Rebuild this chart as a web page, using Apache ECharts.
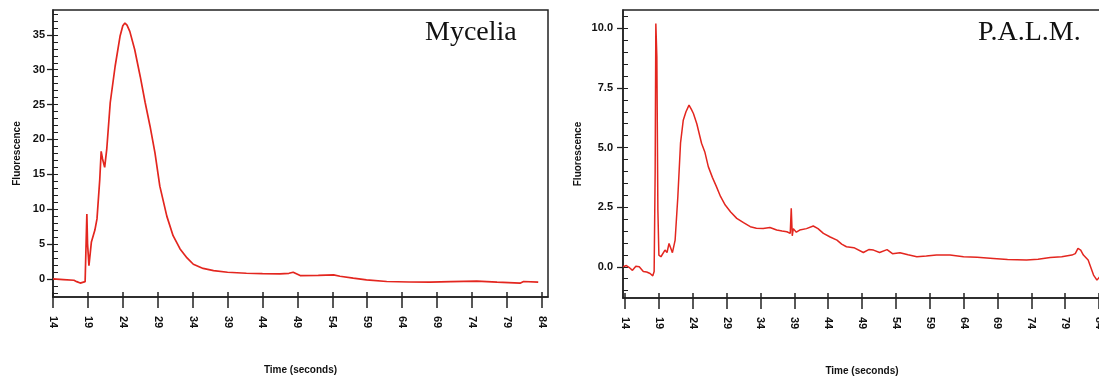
<!DOCTYPE html>
<html>
<head>
<meta charset="utf-8">
<script src="https://cdn.jsdelivr.net/npm/echarts@6/dist/echarts.min.js"></script>
<style>
html,body{margin:0;padding:0;background:#ffffff;}
#chart{width:1099px;height:377px;}
</style>
</head>
<body>
<div id="chart"></div>
<script>
// ---- Data ----
const xTickLabels = [14, 19, 24, 29, 34, 39, 44, 49, 54, 59, 64, 69, 74, 79, 84];

const myceliaMajorY = [0, 5, 10, 15, 20, 25, 30, 35];
const palmMajorY = [0, 2.5, 5, 7.5, 10];

const myceliaTime = [14, 15.5, 17, 17.4, 17.9, 18.6, 18.85, 18.95, 19.15, 19.5, 20.0, 20.3, 20.7, 20.9, 21.1, 21.4, 21.7, 22.2, 22.9, 23.6, 24.0, 24.3, 24.6, 25.0, 25.7, 26.5, 27.2, 27.9, 28.6, 29.3, 30.3, 31.2, 32.2, 33.2, 34.1, 35.5, 37.0, 39.0, 41.7, 44, 46.5, 47.8, 48.4, 49.4, 52, 54.2, 55.1, 57, 58.9, 61.8, 65, 68, 71, 74.7, 77.6, 80.9, 81.4, 83.5];
const myceliaFluor = [0, -0.1, -0.2, -0.4, -0.6, -0.4, 9.3, 5.0, 1.9, 5.3, 7.0, 8.6, 14.3, 18.3, 17.2, 16.0, 18.6, 25.3, 30.5, 34.8, 36.3, 36.7, 36.4, 35.5, 32.9, 29.0, 25.3, 21.9, 18.1, 13.3, 9.0, 6.2, 4.3, 3.0, 2.1, 1.5, 1.19, 0.95, 0.81, 0.75, 0.71, 0.8, 0.95, 0.48, 0.5, 0.57, 0.38, 0.1, -0.14, -0.38, -0.45, -0.48, -0.4, -0.33, -0.48, -0.62, -0.38, -0.48];

const palmTime = [13.7, 14.2, 14.7, 15.1, 15.6, 16.1, 16.7, 17.2, 17.7, 18.1, 18.3, 18.45, 18.55, 18.7, 18.85, 19.0, 19.3, 19.9, 20.2, 20.5, 20.8, 21.0, 21.4, 21.8, 22.2, 22.6, 23.0, 23.45, 23.8, 24.1, 24.6, 25.3, 25.8, 26.3, 26.9, 27.5, 28.1, 28.8, 29.6, 30.5, 31.5, 32.5, 33.4, 34.4, 35.4, 36.4, 37.2, 37.9, 38.4, 38.55, 38.7, 38.85, 39.3, 39.8, 40.8, 41.8, 42.5, 43.3, 44.3, 45.3, 46.0, 46.7, 47.8, 49.2, 50.0, 50.7, 51.6, 52.7, 53.5, 54.6, 55.8, 57.1, 58.5, 60.0, 62.0, 64.0, 66.0, 68.4, 70.5, 73.3, 75.0, 76.8, 78.5, 80.0, 80.5, 80.9, 81.3, 81.7, 82.4, 83.2, 83.7, 84.1];
const palmFluor = [0.0, 0.05, -0.05, -0.15, 0.02, 0.0, -0.2, -0.22, -0.28, -0.38, -0.2, 4.0, 10.2, 8.8, 2.4, 0.49, 0.42, 0.7, 0.6, 0.98, 0.75, 0.59, 1.12, 2.94, 5.2, 6.15, 6.5, 6.78, 6.6, 6.43, 6.0, 5.18, 4.8, 4.2, 3.75, 3.36, 2.95, 2.59, 2.3, 2.03, 1.85, 1.68, 1.62, 1.61, 1.65, 1.54, 1.5, 1.47, 1.4, 2.45, 1.3, 1.6, 1.45, 1.54, 1.6, 1.71, 1.6, 1.4, 1.25, 1.12, 0.95, 0.84, 0.8, 0.6, 0.72, 0.7, 0.6, 0.72, 0.55, 0.59, 0.5, 0.42, 0.45, 0.49, 0.49, 0.42, 0.4, 0.35, 0.3, 0.28, 0.32, 0.39, 0.42, 0.49, 0.55, 0.77, 0.7, 0.49, 0.28, -0.35, -0.56, -0.42];

// minor tick positions
const myceliaMinorY = [];
for (let v = -2; v <= 38; v += 1) myceliaMinorY.push(v);
const palmMinorY = [];
for (let v = -1; v <= 10.5; v += 0.5) palmMinorY.push(v);

// ---- Chart ----
const AX = '#222';
const FONT = 'Liberation Sans, Arial, sans-serif';
const RED = '#e3261f';

function makeX(gi, min, max) {
  return [
    {
      type: 'value', gridIndex: gi, position: 'bottom', min: min, max: max,
      axisLine: { show: true, onZero: false, lineStyle: { color: AX, width: 1.5 } },
      splitLine: { show: false },
      axisTick: { show: true, inside: false, length: 11, customValues: xTickLabels, lineStyle: { color: AX, width: 1.5 } },
      axisLabel: { customValues: xTickLabels, rotate: -90, margin: 19, fontFamily: FONT, fontWeight: 'bold', fontSize: 11, color: '#111' },
      name: 'Time (seconds)', nameLocation: 'middle', nameGap: 68,
      nameTextStyle: { fontFamily: FONT, fontWeight: 'bold', fontSize: 10, color: '#111' }
    },
    {
      type: 'value', gridIndex: gi, position: 'bottom', min: min, max: max,
      axisLine: { show: false, onZero: false }, splitLine: { show: false },
      axisTick: { show: true, inside: true, length: 5, customValues: xTickLabels, lineStyle: { color: AX, width: 1.5 } },
      axisLabel: { show: false }
    }
  ];
}

function makeY(gi, min, max, majors, minors, fmt, gap, margin) {
  return [
    {
      type: 'value', gridIndex: gi, position: 'left', min: min, max: max,
      axisLine: { show: true, onZero: false, lineStyle: { color: AX, width: 1.5 } },
      splitLine: { show: false },
      axisTick: { show: true, inside: false, length: 6, customValues: majors, lineStyle: { color: AX, width: 1.3 } },
      axisLabel: { customValues: majors, margin: margin, formatter: fmt, fontFamily: FONT, fontWeight: 'bold', fontSize: 11, color: '#111' },
      name: 'Fluorescence', nameLocation: 'middle', nameGap: gap,
      nameTextStyle: { fontFamily: FONT, fontWeight: 'bold', fontSize: 10, color: '#111' }
    },
    {
      type: 'value', gridIndex: gi, position: 'left', min: min, max: max,
      axisLine: { show: false, onZero: false }, splitLine: { show: false },
      axisTick: { show: true, inside: true, length: 5, customValues: minors, lineStyle: { color: AX, width: 1 } },
      axisLabel: { show: false }
    }
  ];
}

const chart = echarts.init(document.getElementById('chart'), null, { renderer: 'canvas' });
const option = {
  backgroundColor: '#ffffff',
  animation: false,
  grid: [
    { left: 53, top: 10, width: 495, height: 287, containLabel: false, outerBoundsMode: 'none', show: true, borderColor: AX, borderWidth: 1.5, backgroundColor: 'transparent' },
    { left: 623, top: 10, width: 478, height: 288, containLabel: false, outerBoundsMode: 'none', show: true, borderColor: AX, borderWidth: 1.5, backgroundColor: 'transparent' }
  ],
  xAxis: [].concat(makeX(0, 14, 84.9), makeX(1, 13.7, 84.3)),
  yAxis: [].concat(
    makeY(0, -2.6, 38.57, myceliaMajorY, myceliaMinorY, v => String(v), 31, 8),
    makeY(1, -1.31, 10.77, palmMajorY, palmMinorY, v => v.toFixed(1), 40, 10)
  ),
  graphic: [
    { type: 'text', left: 425, top: 19, style: { text: 'Mycelia', font: '28px "Liberation Serif", "Times New Roman", serif', fill: '#111' } },
    { type: 'text', left: 978, top: 19, style: { text: 'P.A.L.M.', font: '28px "Liberation Serif", "Times New Roman", serif', fill: '#111' } }
  ],
  series: [
    {
      type: 'line', xAxisIndex: 0, yAxisIndex: 0, showSymbol: false, smooth: false,
      lineStyle: { color: RED, width: 1.7 },
      data: myceliaTime.map((t, i) => [t, myceliaFluor[i]])
    },
    {
      type: 'line', xAxisIndex: 2, yAxisIndex: 2, showSymbol: false, smooth: false,
      lineStyle: { color: RED, width: 1.5 },
      data: palmTime.map((t, i) => [t, palmFluor[i]])
    }
  ]
};
chart.setOption(option);
</script>
</body>
</html>
